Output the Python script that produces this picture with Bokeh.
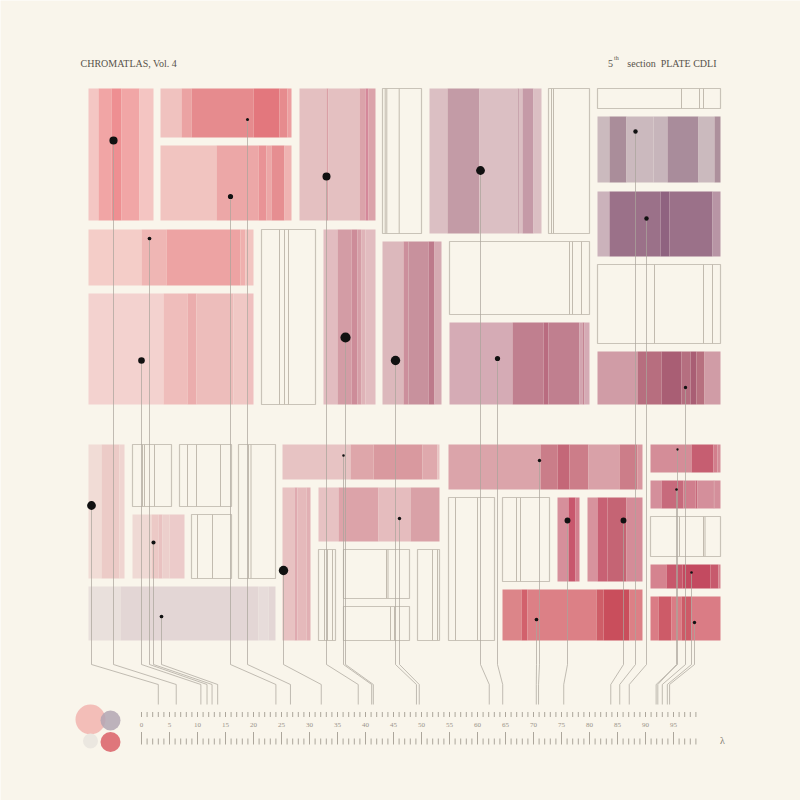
from bokeh.plotting import figure
from bokeh.models import Range1d
from bokeh.core.properties import value
from bokeh.embed import file_html
from bokeh.resources import INLINE

# ---------------- data ----------------
# filled rectangles: vertical extent + stripe edges (left->right) + stripe colours
fill_top = [88, 88, 145, 88, 88, 116, 191, 351, 229, 293, 229, 241, 322,
            444, 514, 586, 444, 487, 487, 444, 497, 497, 589, 444, 480, 564, 596]
fill_bottom = [220, 137, 220, 220, 233, 182, 256, 404, 285, 404, 404, 404, 404,
               578, 578, 640, 479, 640, 541, 489, 581, 581, 640, 472, 508, 588, 640]
fill_edges = [
    [88, 98, 111, 121, 139, 153],
    [160, 181, 191, 253, 279, 287, 291],
    [160, 216, 258, 266, 271, 284, 291],
    [299, 326, 328, 359, 365, 368, 375],
    [429, 447, 479, 517, 518.5, 522, 533, 541],
    [597, 609, 626, 653, 667, 698, 714, 720],
    [597, 609, 660, 669, 712, 720],
    [597, 637, 661, 681, 690, 696, 704, 720],
    [88, 141, 166, 240, 245, 253],
    [88, 163, 187, 196, 233, 247, 253],
    [323, 337, 351, 357, 361, 365, 375],
    [382, 403, 408, 428, 434, 441],
    [449, 512, 543, 548, 579, 582, 584, 589],
    [88, 101, 119, 124],
    [132, 151, 158, 162, 169, 184],
    [88, 120, 258, 268, 275],
    [282, 350, 373, 422, 437, 439],
    [282, 294, 297, 306, 310],
    [318, 338, 378, 410, 439],
    [448, 540, 557, 569, 588, 619, 637, 642],
    [557, 568, 575, 579],
    [587, 597, 607, 626, 642],
    [502, 521, 527, 596, 603, 629, 642],
    [650, 691, 713, 717, 720],
    [650, 661, 683, 695, 697, 713, 714, 720],
    [650, 666, 682, 710, 718, 720],
    [650, 658, 671, 681, 691, 720],
]
fill_colors = [
    ["#f4c6c3", "#f1a5a5", "#ee8f92", "#f1a6a6", "#f4c5c2"],
    ["#f0c2bf", "#eba3a3", "#e68b8e", "#e3777d", "#e68b8e", "#ec9ea0"],
    ["#f1c4c0", "#eca7a7", "#e99396", "#eca7a7", "#e68e91", "#efb3b2"],
    ["#e4c0c1", "#d9a0a6", "#e4c0c1", "#dba3aa", "#d4889a", "#dba3aa"],
    ["#dbbfc3", "#c39ba6", "#dbbfc3", "#c9a5ae", "#dbbfc3", "#c59aa7", "#dbbfc3"],
    ["#cbbabe", "#aa8d9a", "#cbb9be", "#c7b5bb", "#a98c9b", "#cbbabe", "#ad909c"],
    ["#cbb2bb", "#9b7189", "#8f6380", "#9b7189", "#b895a5"],
    ["#d09ca6", "#b76e7f", "#a95e74", "#b56f80", "#a95e74", "#b7707f", "#d09ca6"],
    ["#f4cdc8", "#efb6b4", "#eda3a3", "#efb0ae", "#f2c5c1"],
    ["#f3d2cf", "#efbdbb", "#ebadad", "#edbdbb", "#f0c8c5", "#efc0bf"],
    ["#e2bcc0", "#d39ca5", "#cd8c99", "#d59ea7", "#dfb3b8", "#e2bcc0"],
    ["#dcb8bc", "#cc8f9c", "#c8919d", "#bd7a8b", "#d5aab2"],
    ["#d5abb5", "#c07f8f", "#b96c80", "#c07f8f", "#d3a5b0", "#c48594", "#d5abb5"],
    ["#f1dcd6", "#eccbc7", "#efd4d0"],
    ["#efd9d4", "#ecc9c6", "#e9c2c1", "#eccfcc", "#eccbca"],
    ["#e9e0dc", "#e3d6d5", "#e7dcda", "#e3d6d5"],
    ["#e7c3c3", "#dea6aa", "#d9999f", "#dfa9ad", "#e8c3c3"],
    ["#e8c2c2", "#dfaab0", "#e5b9bb", "#e1b0b4"],
    ["#e7c2c3", "#dca3a9", "#e5bcbe", "#d9a1a7"],
    ["#dba4aa", "#ca7d89", "#c46778", "#cc7d89", "#d9a1a8", "#cc7d89", "#d8969f"],
    ["#d68f9b", "#c8576d", "#d27f8e"],
    ["#d7939d", "#c86174", "#c56474", "#d48c98"],
    ["#dc8589", "#d2616c", "#dc8086", "#ce5e68", "#c94e5c", "#dc8086"],
    ["#d48d98", "#c65e71", "#d27e8c", "#d48d98"],
    ["#d48f9b", "#c76a7c", "#d07e8d", "#c76a7c", "#d48f9b", "#c46b7c", "#d48f9b"],
    ["#d5838f", "#c7576b", "#c34a60", "#c75a6d", "#d5838f"],
    ["#da7c85", "#cd5b68", "#da7c85", "#cd5b68", "#da7c85"],
]

# empty (outlined) rectangles with inner hairlines
box_left = [382, 548, 597, 597, 261, 449, 132, 179, 238, 191, 318, 343, 343, 417, 448, 502, 650]
box_right = [421, 589, 720, 720, 315, 589, 171, 231, 275, 231, 335, 409, 409, 439, 494, 549, 720]
box_top = [88, 88, 88, 264, 229, 241, 444, 444, 444, 514, 549, 549, 606, 549, 497, 497, 516]
box_bottom = [233, 233, 108, 343, 404, 314, 506, 506, 578, 578, 640, 598, 640, 640, 640, 581, 556]
box_lines = [
    [384.7, 386.3, 398.7], [551, 553], [681, 699, 703], [654, 703, 712],
    [279, 284, 288], [569, 572, 581], [142, 144, 154], [187, 196, 220],
    [248, 250.5], [197, 212], [324, 327, 332], [386, 387.5], [390, 394],
    [432, 437], [455, 477], [516, 520], [679, 703, 704.5],
]

# specimen dots and the lambda value each one is tied to on the ruler
dot_x = [91, 113, 141, 149, 153, 161, 230, 247, 283, 326, 343, 345, 395, 399,
         480, 497, 536, 539, 567, 623, 635, 646, 677, 676, 685, 691, 694]
dot_y = [505, 140, 360, 238, 542, 616, 196, 119, 570, 176, 455, 337, 360, 518,
         170, 358, 619, 460, 520, 520, 131, 218, 449, 489, 387, 572, 622]
dot_size = [8.8, 8.2, 6.6, 3.7, 4.1, 3.7, 5.2, 3.0, 9.4, 8.0, 2.6, 10.2, 9.4, 3.4,
            8.8, 5.2, 3.7, 3.4, 5.9, 5.9, 4.4, 4.4, 2.3, 2.6, 3.4, 2.6, 3.4]
dot_lambda = [3.0, 6.2, 10.6, 11.7, 12.6, 13.6, 24.0, 26.6, 32.1, 38.7, 41.1, 41.4, 49.1, 49.6,
              62.1, 64.5, 70.5, 70.9, 75.4, 83.8, 85.4, 87.1, 91.9, 92.2, 93.0, 93.9, 94.3]

# ruler
ruler_ticks = list(range(0, 100))
ruler_labels = list(range(0, 100, 5))

# palette swatches
swatch_x = [90, 110, 90, 110]
swatch_y = [719, 720, 740.5, 741.5]
swatch_r = [15, 10, 7.5, 10]
swatch_color = ["#f2bab5", "#b3a6b3", "#ebe7e0", "#df767b"]
swatch_alpha = [0.95, 0.85, 1.0, 1.0]

# ---------------- layout constants ----------------
BG = "#f9f5eb"
AX0, AXS = 141.0, 5.6          # ruler origin (px) and px per lambda unit
BEND1, BEND2, LEAD_END = 664, 684, 704
FONT = value("Liberation Serif")

p = figure(width=800, height=800, x_range=Range1d(0, 800), y_range=Range1d(800, 0),
           output_backend="svg", toolbar_location=None, min_border=0,
           x_axis_location=None, y_axis_location=None)
p.grid.visible = False
p.outline_line_color = None
p.background_fill_color = BG
p.border_fill_color = BG

# filled stripes
L, R, T, B, C = [], [], [], [], []
for top, bot, edges, cols in zip(fill_top, fill_bottom, fill_edges, fill_colors):
    for i, c in enumerate(cols):
        L.append(edges[i]); R.append(edges[i + 1]); T.append(top); B.append(bot); C.append(c)
p.quad(left=L, right=R, top=T, bottom=B, fill_color=C, line_color=None)

# outlined boxes
p.quad(left=box_left, right=box_right, top=box_top, bottom=box_bottom,
       fill_color=None, line_color="#c9c3b8", line_width=1.2)
sx, sy0, sy1 = [], [], []
for top, bot, lines in zip(box_top, box_bottom, box_lines):
    for lx in lines:
        sx.append(lx); sy0.append(top); sy1.append(bot)
p.segment(x0=sx, y0=sy0, x1=sx, y1=sy1, line_color="#c2bbaf", line_width=1)

# leader lines
xs, ys = [], []
for dx, dy, lam in zip(dot_x, dot_y, dot_lambda):
    ex = AX0 + lam * AXS
    xs.append([dx, dx, ex, ex]); ys.append([dy, BEND1, BEND2, LEAD_END])
p.multi_line(xs=xs, ys=ys, line_color="#aaa49a", line_width=0.9, line_alpha=0.8)

# dots
p.scatter(x=dot_x, y=dot_y, size=dot_size, marker="circle", fill_color="#111111", line_color=None)

# ruler
tx = [AX0 + t * AXS for t in ruler_ticks]
p.segment(x0=tx, y0=[711.5] * len(tx), x1=tx, y1=[716.5] * len(tx), line_color="#aca69b", line_width=1)
ly0 = [731.5 if t % 5 == 0 else 738 for t in ruler_ticks]
p.segment(x0=tx, y0=ly0, x1=tx, y1=[744] * len(tx), line_color="#aca69b", line_width=1)
p.text(x=[AX0 + t * AXS for t in ruler_labels], y=[724] * len(ruler_labels),
       text=[str(t) for t in ruler_labels], text_font=FONT, text_font_size="7px",
       text_color="#9a948a", text_align="center", text_baseline="middle")
p.text(x=[722], y=[740], text=["λ"], text_font=FONT, text_font_size="10px",
       text_color="#7d776e", text_align="center", text_baseline="middle")

# swatches
p.circle(x=swatch_x, y=swatch_y, radius=swatch_r, fill_color=swatch_color,
         fill_alpha=swatch_alpha, line_color=None)

# header
p.text(x=[80], y=[62.5], text=["CHROMATLAS, Vol. 4"], text_font=FONT, text_font_size="10px",
       text_color="#57524a", text_align="left", text_baseline="alphabetic")
p.text(x=[716], y=[62.5], text=["section\u00a0 PLATE CDLI"], text_font=FONT, text_font_size="10px",
       text_color="#57524a", text_align="right", text_baseline="alphabetic")
p.text(x=[612.5], y=[62.5], text=["5"], text_font=FONT, text_font_size="10px",
       text_color="#57524a", text_align="right", text_baseline="alphabetic")
p.text(x=[613.5], y=[57], text=["th"], text_font=FONT, text_font_size="6px",
       text_color="#57524a", text_align="left", text_baseline="alphabetic")

open("out.html", "w").write(file_html(p, INLINE))
